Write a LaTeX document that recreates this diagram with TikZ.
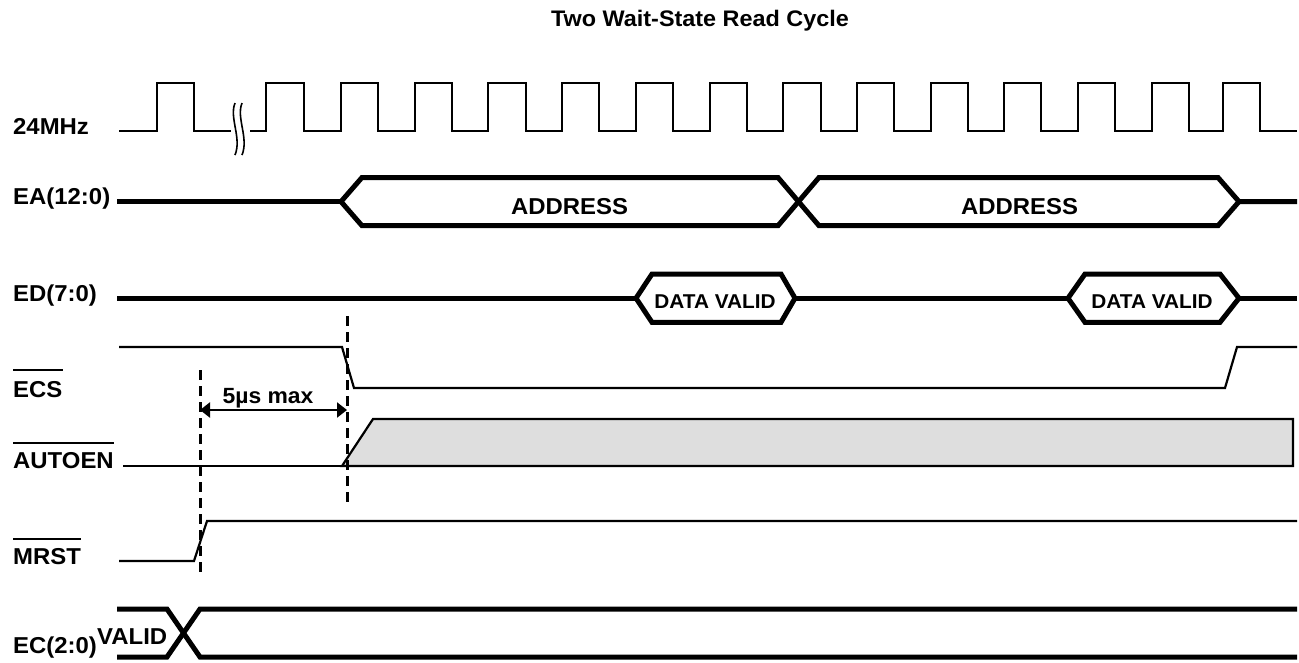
\documentclass[tikz,border=0pt]{standalone}
\usepackage{fontspec}
\setmainfont{Liberation Sans}[FakeStretch=1.04]
\usetikzlibrary{arrows.meta}
\definecolor{shade}{HTML}{DEDEDE}
\tikzset{
  lbl/.style={anchor=base west, inner sep=0pt, font=\bfseries\fontsize{23}{27}\selectfont},
  bustext/.style={anchor=base, inner sep=0pt, font=\bfseries\fontsize{23}{27}\selectfont},
  dvtext/.style={anchor=base, inner sep=0pt, font=\bfseries\fontsize{20}{24}\selectfont},
  clk/.style={line width=2.9pt, line join=miter},
  bus/.style={line width=5pt, line join=miter},
  sig/.style={line width=2.2pt, line join=miter},
  ovl/.style={line width=2.2pt},
  guide/.style={line width=3pt, dash pattern=on 10pt off 6pt},
  brk/.style={line width=1.6pt},
  dim/.style={line width=2.2pt, {Triangle[length=10pt,width=15pt]}-{Triangle[length=10pt,width=15pt]}},
}
\begin{document}
\begin{tikzpicture}[x=1pt,y=-1pt]
\useasboundingbox (0,0) rectangle (1299,662);

% title
\node[bustext, font=\bfseries\fontsize{22.5}{26}\selectfont] (title) at (700,26.7) {Two Wait-State Read Cycle};

% labels
\node[lbl] (clkl) at (13,134) {24MHz};
\node[lbl] (eal) at (13,204) {EA(12:0)};
\node[lbl] (edl) at (13,301.5) {ED(7:0)};
\node[lbl] (ecsl) at (13,397.7) {ECS};
\node[lbl] (autl) at (13,468.3) {AUTOEN};
\node[lbl] (mrsl) at (13,564) {MRST};
\node[lbl] (ecl) at (13,653.5) {EC(2:0)};
\node[lbl] (valid) at (97,644.5) {VALID};
\draw[ovl] (ecsl.west |- 0,370) -- (ecsl.east |- 0,370);
\draw[ovl] (autl.west |- 0,443.3) -- (autl.east |- 0,443.3);
\draw[ovl] (mrsl.west |- 0,539.3) -- (mrsl.east |- 0,539.3);

% clock
\draw[clk] (119,131) -- (157,131) -- (157,83) -- (194,83) -- (194,131) -- (231,131);
\draw[clk] (250,131)
  \foreach \r/\f in {266/304,341/378,415/452,488/526,562/599,636/673,710/747,783/821,857/894,931/968,1004/1041,1078/1115,1152/1189,1223/1260}
  { -- (\r,131) -- (\r,83) -- (\f,83) -- (\f,131) } -- (1297,131);
\draw[brk] (235,103) .. controls (229,118) and (242,138) .. (235,155);
\draw[brk] (242,103) .. controls (236,118) and (249,138) .. (242,155);

% EA(12:0)
\draw[bus] (117,201.6) -- (341,201.6);
\draw[bus] (341,201.6) -- (362,177.5) -- (778,177.5) -- (819,225.7) -- (1218,225.7) -- (1239,201.6) -- (1297,201.6);
\draw[bus] (341,201.6) -- (362,225.7) -- (778,225.7) -- (819,177.5) -- (1218,177.5) -- (1239,201.6);
\node[bustext] (addr1) at (569.5,214.3) {ADDRESS};
\node[bustext] (addr2) at (1019.5,214.3) {ADDRESS};

% ED(7:0)
\draw[bus] (117,298.2) -- (636,298.2);
\draw[bus] (636,298.2) -- (652,274) -- (781,274) -- (795,298.2) -- (781,322.3) -- (652,322.3) -- cycle;
\draw[bus] (795,298.2) -- (1068,298.2);
\draw[bus] (1068,298.2) -- (1085,274) -- (1220,274) -- (1239,298.2) -- (1220,322.3) -- (1085,322.3) -- cycle;
\draw[bus] (1239,298.2) -- (1297,298.2);
\node[dvtext] (dv1) at (715,308.3) {DATA VALID};
\node[dvtext] (dv2) at (1152,308.3) {DATA VALID};

% ECS
\draw[sig] (119,347) -- (342,347) -- (354,388) -- (1225,388) -- (1237,347) -- (1297,347);

% AUTOEN
\draw[sig] (123,466) -- (342,466);
\draw[sig, fill=shade] (342,466) -- (373,419) -- (1293,419) -- (1293,466) -- cycle;

% MRST
\draw[sig] (119,561) -- (194,561) -- (207,521) -- (1297,521);

% EC(2:0)
\draw[bus] (117,609) -- (167,609) -- (200,657) -- (1297,657);
\draw[bus] (117,657) -- (167,657) -- (200,609) -- (1297,609);

% guides
\coordinate (g1t) at (200,370);
\coordinate (g1b) at (200,575);
\coordinate (g2t) at (347,316);
\coordinate (g2b) at (347,502);
\draw[guide] (g1t) -- (g1b);
\draw[guide] (g2t) -- (g2b);
\coordinate (a1) at (200,410);
\coordinate (a2) at (347,410);
\draw[dim] (a1) -- (a2);
\node[bustext, font=\bfseries\fontsize{22}{25}\selectfont] (tmax) at (268,403.3) {5µs max};
\end{tikzpicture}
\end{document}
